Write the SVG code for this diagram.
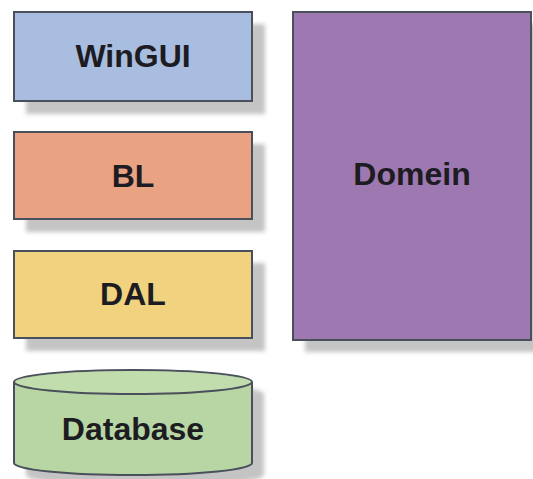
<svg xmlns="http://www.w3.org/2000/svg" width="533" height="479" viewBox="0 0 533 479">
<style>
.box{stroke:#4a4f5c;stroke-width:2}
.sh{fill:#c4c4c4}
.lbl{font-family:"Liberation Sans",Arial,sans-serif;font-weight:bold;font-size:32px;fill:#1c1c22;text-anchor:middle}
</style>
<defs>
<filter id="blur" x="-10%" y="-10%" width="120%" height="120%"><feGaussianBlur stdDeviation="2"/></filter>
</defs>
<rect width="533" height="479" fill="#ffffff"/>
<g id="winGUI">
<rect class="sh" x="26" y="24" width="239" height="90" filter="url(#blur)"/>
<rect class="box" x="14" y="12" width="238" height="89" fill="#a9bde0"/>
<text class="lbl" x="133" y="67">WinGUI</text>
</g>
<g id="BL">
<rect class="sh" x="26" y="144" width="239" height="88" filter="url(#blur)"/>
<rect class="box" x="14" y="132" width="238" height="87" fill="#e9a282"/>
<text class="lbl" x="133" y="187">BL</text>
</g>
<g id="DAL">
<rect class="sh" x="26" y="263" width="239" height="88" filter="url(#blur)"/>
<rect class="box" x="14" y="251" width="238" height="87" fill="#f1d27f"/>
<text class="lbl" x="133" y="305">DAL</text>
</g>
<g id="Domein">
<rect class="sh" x="305" y="24" width="238" height="328" filter="url(#blur)"/>
<rect class="box" x="293" y="12" width="238" height="328" fill="#9e78b0"/>
<text class="lbl" x="412" y="185">Domein</text>
</g>
<g id="Database">
<path class="sh" d="M26 394 A119 12 0 0 1 264 394 L264 475 A119 12 0 0 1 26 475 Z" filter="url(#blur)"/>
<path class="box" d="M14 382 A119 12 0 0 1 252 382 L252 463 A119 12 0 0 1 14 463 Z" fill="#b8d6a3"/>
<ellipse cx="133" cy="382" rx="118" ry="11" fill="#c6e0b4" opacity="0.6"/>
<path class="box" d="M14 382 A119 12 0 0 0 252 382" fill="none"/>
<text class="lbl" x="133" y="440">Database</text>
</g>
</svg>
